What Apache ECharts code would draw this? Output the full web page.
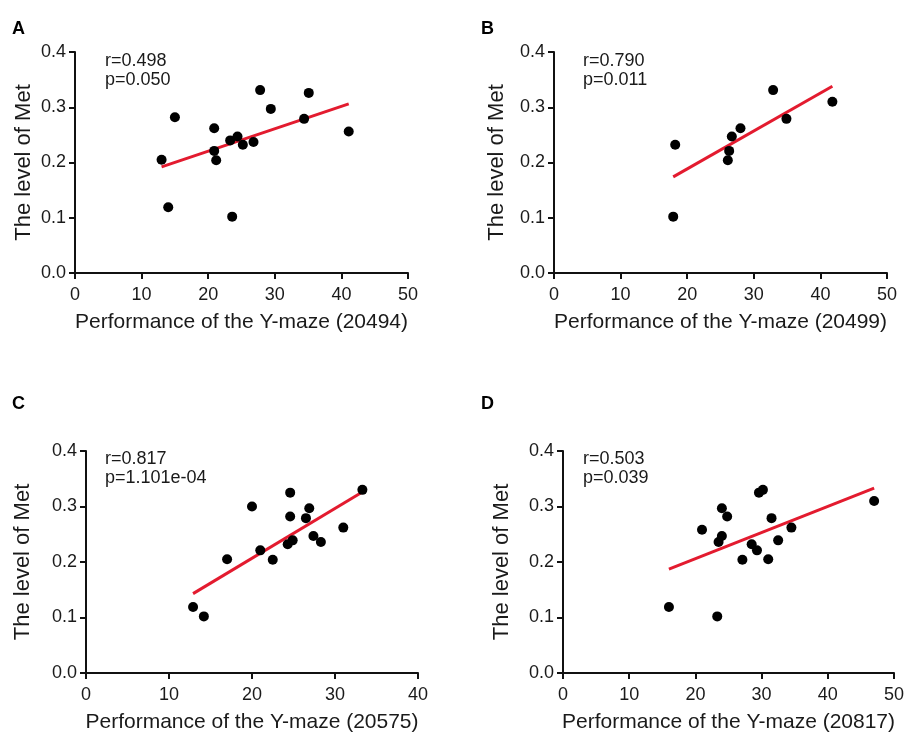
<!DOCTYPE html>
<html>
<head>
<meta charset="utf-8">
<script src="https://cdn.jsdelivr.net/npm/echarts@6/dist/echarts.min.js"></script>
<style>html,body{margin:0;padding:0;background:#fff}#c{width:915px;height:735px}</style>
</head>
<body>
<div id="c"></div>
<script>
var pointsA = [[13.0,0.205],[14.0,0.119],[15.0,0.282],[20.9,0.262],[20.9,0.221],[21.2,0.204],[23.3,0.240],[23.6,0.102],[24.4,0.247],[25.2,0.232],[26.8,0.237],[27.8,0.331],[29.4,0.297],[34.4,0.279],[35.1,0.326],[41.1,0.256]];
var fitA = [[13.0,0.192],[41.1,0.306]];
var pointsB = [[17.9,0.102],[18.2,0.232],[26.1,0.204],[26.3,0.221],[26.7,0.247],[28.0,0.262],[32.9,0.331],[34.9,0.279],[41.8,0.310]];
var fitB = [[17.9,0.174],[41.8,0.338]];
var pointsC = [[12.9,0.119],[14.2,0.102],[17.0,0.205],[20.0,0.300],[21.0,0.221],[22.5,0.204],[24.3,0.232],[24.6,0.325],[24.6,0.282],[24.9,0.239],[26.5,0.279],[26.9,0.297],[27.4,0.247],[28.3,0.236],[31.0,0.262],[33.3,0.330]];
var fitC = [[12.9,0.143],[33.3,0.326]];
var pointsD = [[16.0,0.119],[21.0,0.258],[23.3,0.102],[23.5,0.236],[24.0,0.247],[24.0,0.297],[24.8,0.282],[27.1,0.204],[28.5,0.232],[29.3,0.221],[29.6,0.325],[30.2,0.330],[31.0,0.205],[31.5,0.279],[32.5,0.239],[34.5,0.262],[47.0,0.310]];
var fitD = [[16.0,0.187],[47.0,0.333]];

var panelLetters = ['A','B','C','D'];
var statsText = ['r=0.498\np=0.050','r=0.790\np=0.011','r=0.817\np=1.101e-04','r=0.503\np=0.039'];
var xTitles = ['Performance of the Y-maze (20494)','Performance of the Y-maze (20499)','Performance of the Y-maze (20575)','Performance of the Y-maze (20817)'];
var yTitle = 'The level of Met';
var xMaxes = [50,50,40,50];
var yTickLabels = ['0.0','0.1','0.2','0.3','0.4'];

var allPoints = [pointsA,pointsB,pointsC,pointsD];
var allFits = [fitA,fitB,fitC,fitD];

var FONT = '"Liberation Sans", Arial, sans-serif';
var TXT = '#1a1a1a';
var grids = [
  {left:75, top:52, width:333, height:221},
  {left:554, top:52, width:333, height:221},
  {left:86, top:451, width:332, height:222},
  {left:563, top:451, width:331, height:222}
];
var yNameGaps = [40, 46, 52, 50];
var letterPos = [[12,20],[481,20],[12,395],[481,395]];
var statsPos = [[105,52],[583,52],[105,450],[583,450]];

var xAxes = [], yAxes = [], series = [], graphics = [];
for (var i = 0; i < 4; i++) {
  xAxes.push({
    gridIndex:i, type:'value', min:0, max:xMaxes[i], interval:10,
    name:xTitles[i], nameLocation:'middle', nameGap:39,
    nameTextStyle:{fontSize:21, color:TXT, fontFamily:FONT},
    axisLine:{show:true, onZero:false, lineStyle:{color:'#111', width:2}},
    axisTick:{show:true, inside:false, length:6, lineStyle:{color:'#111', width:2}},
    axisLabel:{fontSize:18, color:TXT, fontFamily:FONT, margin:13},
    splitLine:{show:false}
  });
  yAxes.push({
    gridIndex:i, type:'value', min:0, max:0.4, interval:0.1,
    name:yTitle, nameLocation:'middle', nameGap:yNameGaps[i], nameRotate:90,
    nameTextStyle:{fontSize:22, color:TXT, fontFamily:FONT},
    axisLine:{show:true, onZero:false, lineStyle:{color:'#111', width:2}},
    axisTick:{show:true, inside:false, length:6, lineStyle:{color:'#111', width:2}},
    axisLabel:{fontSize:18, color:TXT, fontFamily:FONT, margin:9,
      formatter:function(v){return yTickLabels[Math.round(v*10)];}},
    splitLine:{show:false}
  });
  series.push({
    type:'line', xAxisIndex:i, yAxisIndex:i, data:allFits[i], symbol:'none',
    lineStyle:{color:'#e31b2f', width:3}, z:2, silent:true
  });
  series.push({
    type:'scatter', xAxisIndex:i, yAxisIndex:i, data:allPoints[i], symbolSize:10,
    itemStyle:{color:'#000', opacity:1}, z:3
  });
  graphics.push({type:'text', left:letterPos[i][0], top:letterPos[i][1],
    style:{text:panelLetters[i], fill:'#000', font:'bold 18px '+FONT}});
  graphics.push({type:'text', left:statsPos[i][0], top:statsPos[i][1],
    style:{text:statsText[i], fill:TXT, font:'18px '+FONT, lineHeight:19}});
}

var chart = echarts.init(document.getElementById('c'), null, {renderer:'canvas'});
chart.setOption({
  backgroundColor:'#fff',
  animation:false,
  grid:grids,
  xAxis:xAxes,
  yAxis:yAxes,
  series:series,
  graphic:graphics
});
</script>
</body>
</html>
